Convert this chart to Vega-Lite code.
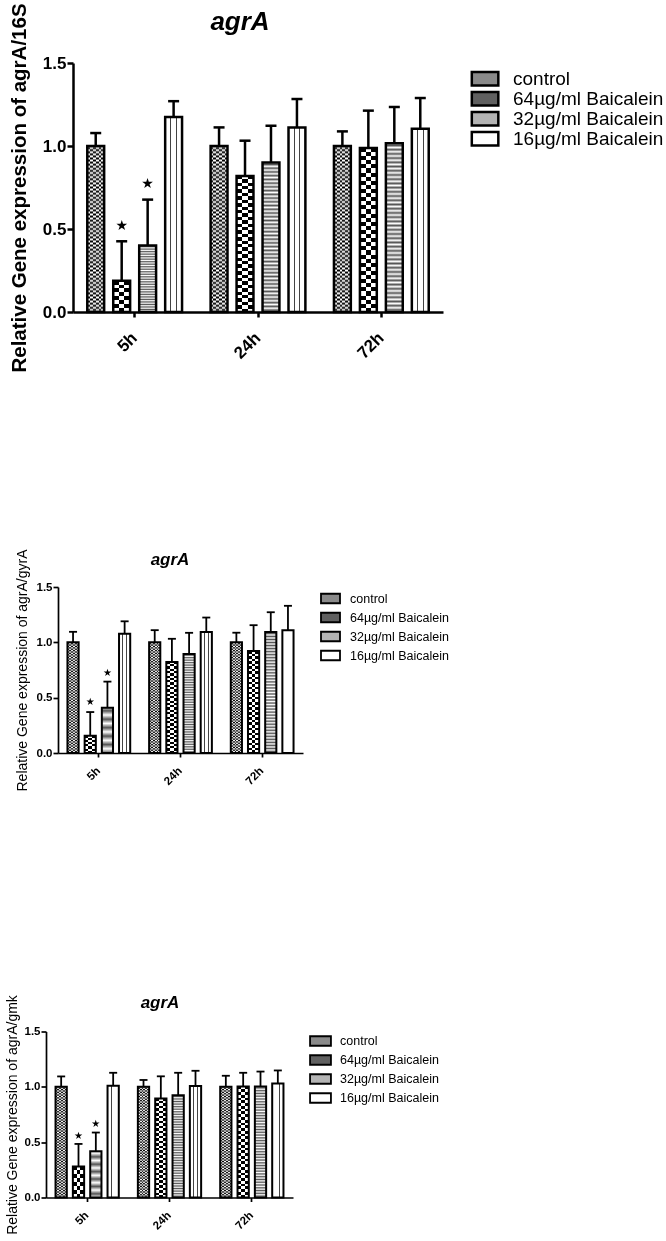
{
"$schema": "https://vega.github.io/schema/vega-lite/v6.json",
"background": "white",
"padding": {"left": 0, "top": 0, "right": 0, "bottom": 0},
"config": {
  "font": "Liberation Sans",
  "view": {"stroke": null},
  "axis": {"grid": false, "domainColor": "black", "tickColor": "black", "labelColor": "black", "titleColor": "black", "labelFont": "Liberation Sans", "titleFont": "Liberation Sans"},
  "legend": {"labelColor": "black", "labelFont": "Liberation Sans", "padding": 0, "labelLimit": 400, "symbolOpacity": 1}
},
"datasets": {
  "p1": [
    {"time":"5h","series":"control","mean":1.0,"upper":1.078},
    {"time":"5h","series":"64µg/ml Baicalein","mean":0.189,"upper":0.426,"star":0.518},
    {"time":"5h","series":"32µg/ml Baicalein","mean":0.4,"upper":0.677,"star":0.773},
    {"time":"5h","series":"16µg/ml Baicalein","mean":1.175,"upper":1.27},
    {"time":"24h","series":"control","mean":1.0,"upper":1.112},
    {"time":"24h","series":"64µg/ml Baicalein","mean":0.82,"upper":1.032},
    {"time":"24h","series":"32µg/ml Baicalein","mean":0.9,"upper":1.122},
    {"time":"24h","series":"16µg/ml Baicalein","mean":1.112,"upper":1.283},
    {"time":"72h","series":"control","mean":1.0,"upper":1.088},
    {"time":"72h","series":"64µg/ml Baicalein","mean":0.988,"upper":1.213},
    {"time":"72h","series":"32µg/ml Baicalein","mean":1.016,"upper":1.235},
    {"time":"72h","series":"16µg/ml Baicalein","mean":1.104,"upper":1.289}
  ],
  "p2": [
    {"time":"5h","series":"control","mean":1.0,"upper":1.095},
    {"time":"5h","series":"64µg/ml Baicalein","mean":0.157,"upper":0.37,"star":0.462},
    {"time":"5h","series":"32µg/ml Baicalein","mean":0.41,"upper":0.645,"star":0.727},
    {"time":"5h","series":"16µg/ml Baicalein","mean":1.078,"upper":1.19},
    {"time":"24h","series":"control","mean":1.0,"upper":1.11},
    {"time":"24h","series":"64µg/ml Baicalein","mean":0.823,"upper":1.032},
    {"time":"24h","series":"32µg/ml Baicalein","mean":0.895,"upper":1.086},
    {"time":"24h","series":"16µg/ml Baicalein","mean":1.094,"upper":1.224},
    {"time":"72h","series":"control","mean":1.0,"upper":1.087},
    {"time":"72h","series":"64µg/ml Baicalein","mean":0.921,"upper":1.155},
    {"time":"72h","series":"32µg/ml Baicalein","mean":1.094,"upper":1.272},
    {"time":"72h","series":"16µg/ml Baicalein","mean":1.11,"upper":1.33}
  ],
  "p3": [
    {"time":"5h","series":"control","mean":1.0,"upper":1.094},
    {"time":"5h","series":"64µg/ml Baicalein","mean":0.281,"upper":0.484,"star":0.56},
    {"time":"5h","series":"32µg/ml Baicalein","mean":0.418,"upper":0.587,"star":0.66},
    {"time":"5h","series":"16µg/ml Baicalein","mean":1.01,"upper":1.127},
    {"time":"24h","series":"control","mean":1.0,"upper":1.062},
    {"time":"24h","series":"64µg/ml Baicalein","mean":0.895,"upper":1.095},
    {"time":"24h","series":"32µg/ml Baicalein","mean":0.925,"upper":1.127},
    {"time":"24h","series":"16µg/ml Baicalein","mean":1.008,"upper":1.145},
    {"time":"72h","series":"control","mean":1.0,"upper":1.1},
    {"time":"72h","series":"64µg/ml Baicalein","mean":1.003,"upper":1.127},
    {"time":"72h","series":"32µg/ml Baicalein","mean":1.003,"upper":1.138},
    {"time":"72h","series":"16µg/ml Baicalein","mean":1.03,"upper":1.148}
  ]
},
"columns": 1,
"spacing": 172,
"resolve": {"scale": {"fill": "independent", "x": "independent", "y": "independent", "xOffset": "independent"}, "legend": {"fill": "independent"}},
"concat": [
{
 "hconcat": [
  {"width": 9, "height": 1, "data": {"values": [{"a": 1}]}, "mark": {"type": "rect", "opacity": 0}, "encoding": {}},
  {
  "width": 370, "height": 249,
  "data": {"name": "p1"},
  "layer": [
   {
    "encoding": {
      "x": {"field": "time", "type": "nominal", "sort": ["5h","24h","72h"], "scale": {"paddingInner": 0, "paddingOuter": 0},
        "axis": {"title": null, "labelAngle": -45, "labelAlign": "right", "labelBaseline": "middle", "labelFontSize": 17, "labelFontWeight": "bold", "labelPadding": 18, "tickSize": 5, "tickWidth": 2.5, "domainWidth": 2.5}},
      "xOffset": {"field": "series", "type": "nominal", "sort": ["control","64µg/ml Baicalein","32µg/ml Baicalein","16µg/ml Baicalein"], "scale": {"domain": ["control","64µg/ml Baicalein","32µg/ml Baicalein","16µg/ml Baicalein"], "paddingInner": 0.35, "paddingOuter": 0.55}}
    },
    "layer": [
    {"mark": {"type": "bar", "stroke": "black", "strokeWidth": 2.5},
     "encoding": {
       "y": {"field": "mean", "type": "quantitative", "scale": {"domain": [0, 1.5], "nice": false},
         "axis": {"values": [0, 0.5, 1, 1.5], "format": ".1f", "title": "Relative Gene expression of  agrA/16S", "titleFontSize": 20.5, "titleFontWeight": "bold", "titlePadding": 13, "labelFontSize": 17, "labelFontWeight": "bold", "labelPadding": 1, "tickSize": 6, "tickWidth": 2.5, "domainWidth": 2.5}},
       "fill": {"condition": [
           {"test": "datum.series == 'control'", "value": {"gradient":"linear","x1":0,"y1":0,"x2":1,"y2":0,"stops":[{"offset":0,"color":"#000"},{"offset":0.1667,"color":"#000"},{"offset":0.1667,"color":"#fff"},{"offset":0.3333,"color":"#fff"},{"offset":0.3333,"color":"#000"},{"offset":0.5,"color":"#000"},{"offset":0.5,"color":"#fff"},{"offset":0.6667,"color":"#fff"},{"offset":0.6667,"color":"#000"},{"offset":0.8333,"color":"#000"},{"offset":0.8333,"color":"#fff"},{"offset":1,"color":"#fff"}]}},
           {"test": "datum.series == '64µg/ml Baicalein'", "value": {"gradient":"linear","x1":0,"y1":0,"x2":1,"y2":0,"stops":[{"offset":0,"color":"#fff"},{"offset":0.3333,"color":"#fff"},{"offset":0.3333,"color":"#000"},{"offset":0.6667,"color":"#000"},{"offset":0.6667,"color":"#fff"},{"offset":1,"color":"#fff"}]}},
           {"test": "datum.series == '32µg/ml Baicalein'", "value": {"gradient":"linear","x1":0,"y1":0,"x2":0,"y2":1,"stops":[
               {"offset":0,"color":"#fff"},{"offset":0.0125,"color":"#555"},{"offset":0.025,"color":"#fff"},{"offset":0.0375,"color":"#555"},{"offset":0.05,"color":"#fff"},{"offset":0.0625,"color":"#555"},{"offset":0.075,"color":"#fff"},{"offset":0.0875,"color":"#555"},
               {"offset":0.1,"color":"#fff"},{"offset":0.1125,"color":"#555"},{"offset":0.125,"color":"#fff"},{"offset":0.1375,"color":"#555"},{"offset":0.15,"color":"#fff"},{"offset":0.1625,"color":"#555"},{"offset":0.175,"color":"#fff"},{"offset":0.1875,"color":"#555"},
               {"offset":0.2,"color":"#fff"},{"offset":0.2125,"color":"#555"},{"offset":0.225,"color":"#fff"},{"offset":0.2375,"color":"#555"},{"offset":0.25,"color":"#fff"},{"offset":0.2625,"color":"#555"},{"offset":0.275,"color":"#fff"},{"offset":0.2875,"color":"#555"},
               {"offset":0.3,"color":"#fff"},{"offset":0.3125,"color":"#555"},{"offset":0.325,"color":"#fff"},{"offset":0.3375,"color":"#555"},{"offset":0.35,"color":"#fff"},{"offset":0.3625,"color":"#555"},{"offset":0.375,"color":"#fff"},{"offset":0.3875,"color":"#555"},
               {"offset":0.4,"color":"#fff"},{"offset":0.4125,"color":"#555"},{"offset":0.425,"color":"#fff"},{"offset":0.4375,"color":"#555"},{"offset":0.45,"color":"#fff"},{"offset":0.4625,"color":"#555"},{"offset":0.475,"color":"#fff"},{"offset":0.4875,"color":"#555"},
               {"offset":0.5,"color":"#fff"},{"offset":0.5125,"color":"#555"},{"offset":0.525,"color":"#fff"},{"offset":0.5375,"color":"#555"},{"offset":0.55,"color":"#fff"},{"offset":0.5625,"color":"#555"},{"offset":0.575,"color":"#fff"},{"offset":0.5875,"color":"#555"},
               {"offset":0.6,"color":"#fff"},{"offset":0.6125,"color":"#555"},{"offset":0.625,"color":"#fff"},{"offset":0.6375,"color":"#555"},{"offset":0.65,"color":"#fff"},{"offset":0.6625,"color":"#555"},{"offset":0.675,"color":"#fff"},{"offset":0.6875,"color":"#555"},
               {"offset":0.7,"color":"#fff"},{"offset":0.7125,"color":"#555"},{"offset":0.725,"color":"#fff"},{"offset":0.7375,"color":"#555"},{"offset":0.75,"color":"#fff"},{"offset":0.7625,"color":"#555"},{"offset":0.775,"color":"#fff"},{"offset":0.7875,"color":"#555"},
               {"offset":0.8,"color":"#fff"},{"offset":0.8125,"color":"#555"},{"offset":0.825,"color":"#fff"},{"offset":0.8375,"color":"#555"},{"offset":0.85,"color":"#fff"},{"offset":0.8625,"color":"#555"},{"offset":0.875,"color":"#fff"},{"offset":0.8875,"color":"#555"},
               {"offset":0.9,"color":"#fff"},{"offset":0.9125,"color":"#555"},{"offset":0.925,"color":"#fff"},{"offset":0.9375,"color":"#555"},{"offset":0.95,"color":"#fff"},{"offset":0.9625,"color":"#555"},{"offset":0.975,"color":"#fff"},{"offset":0.9875,"color":"#555"},
               {"offset":1,"color":"#fff"}]}},
           {"test": "datum.series == '16µg/ml Baicalein'", "value": {"gradient":"linear","x1":0,"y1":0,"x2":1,"y2":0,"stops":[{"offset":0,"color":"#fff"},{"offset":0.3,"color":"#fff"},{"offset":0.3,"color":"#444"},{"offset":0.36,"color":"#444"},{"offset":0.36,"color":"#fff"},{"offset":0.64,"color":"#fff"},{"offset":0.64,"color":"#444"},{"offset":0.7,"color":"#444"},{"offset":0.7,"color":"#fff"},{"offset":1,"color":"#fff"}]}}
         ],
         "field": "series", "type": "nominal",
         "scale": {"domain": ["control","64µg/ml Baicalein","32µg/ml Baicalein","16µg/ml Baicalein"], "range": ["#8a8a8a","#606060","#b4b4b4","#ffffff"]},
         "legend": {"orient": "none", "legendX": 396, "legendY": 6, "title": null, "labelFontSize": 19, "symbolType": "M-0.85,-0.7H1.9V0.7H-0.85Z", "symbolSize": 372, "symbolStrokeColor": "black", "symbolStrokeWidth": 2.5, "labelOffset": 22, "rowPadding": 0, "clipHeight": 19.7}}
     }},
    {"transform": [{"filter": "datum.series == 'control' || datum.series == '64µg/ml Baicalein'"}],
     "mark": {"type": "bar", "stroke": "black", "strokeWidth": 2.5, "blend": "difference"},
     "encoding": {"y": {"field": "mean", "type": "quantitative"},
       "fill": {"condition": [
           {"test": "datum.series == 'control'", "value": {"gradient":"linear","x1":0,"y1":0,"x2":0,"y2":1,"stops":[
               {"offset":0,"color":"#fff"},{"offset":0.0125,"color":"#000"},{"offset":0.025,"color":"#fff"},{"offset":0.0375,"color":"#000"},{"offset":0.05,"color":"#fff"},{"offset":0.0625,"color":"#000"},{"offset":0.075,"color":"#fff"},{"offset":0.0875,"color":"#000"},
               {"offset":0.1,"color":"#fff"},{"offset":0.1125,"color":"#000"},{"offset":0.125,"color":"#fff"},{"offset":0.1375,"color":"#000"},{"offset":0.15,"color":"#fff"},{"offset":0.1625,"color":"#000"},{"offset":0.175,"color":"#fff"},{"offset":0.1875,"color":"#000"},
               {"offset":0.2,"color":"#fff"},{"offset":0.2125,"color":"#000"},{"offset":0.225,"color":"#fff"},{"offset":0.2375,"color":"#000"},{"offset":0.25,"color":"#fff"},{"offset":0.2625,"color":"#000"},{"offset":0.275,"color":"#fff"},{"offset":0.2875,"color":"#000"},
               {"offset":0.3,"color":"#fff"},{"offset":0.3125,"color":"#000"},{"offset":0.325,"color":"#fff"},{"offset":0.3375,"color":"#000"},{"offset":0.35,"color":"#fff"},{"offset":0.3625,"color":"#000"},{"offset":0.375,"color":"#fff"},{"offset":0.3875,"color":"#000"},
               {"offset":0.4,"color":"#fff"},{"offset":0.4125,"color":"#000"},{"offset":0.425,"color":"#fff"},{"offset":0.4375,"color":"#000"},{"offset":0.45,"color":"#fff"},{"offset":0.4625,"color":"#000"},{"offset":0.475,"color":"#fff"},{"offset":0.4875,"color":"#000"},
               {"offset":0.5,"color":"#fff"},{"offset":0.5125,"color":"#000"},{"offset":0.525,"color":"#fff"},{"offset":0.5375,"color":"#000"},{"offset":0.55,"color":"#fff"},{"offset":0.5625,"color":"#000"},{"offset":0.575,"color":"#fff"},{"offset":0.5875,"color":"#000"},
               {"offset":0.6,"color":"#fff"},{"offset":0.6125,"color":"#000"},{"offset":0.625,"color":"#fff"},{"offset":0.6375,"color":"#000"},{"offset":0.65,"color":"#fff"},{"offset":0.6625,"color":"#000"},{"offset":0.675,"color":"#fff"},{"offset":0.6875,"color":"#000"},
               {"offset":0.7,"color":"#fff"},{"offset":0.7125,"color":"#000"},{"offset":0.725,"color":"#fff"},{"offset":0.7375,"color":"#000"},{"offset":0.75,"color":"#fff"},{"offset":0.7625,"color":"#000"},{"offset":0.775,"color":"#fff"},{"offset":0.7875,"color":"#000"},
               {"offset":0.8,"color":"#fff"},{"offset":0.8125,"color":"#000"},{"offset":0.825,"color":"#fff"},{"offset":0.8375,"color":"#000"},{"offset":0.85,"color":"#fff"},{"offset":0.8625,"color":"#000"},{"offset":0.875,"color":"#fff"},{"offset":0.8875,"color":"#000"},
               {"offset":0.9,"color":"#fff"},{"offset":0.9125,"color":"#000"},{"offset":0.925,"color":"#fff"},{"offset":0.9375,"color":"#000"},{"offset":0.95,"color":"#fff"},{"offset":0.9625,"color":"#000"},{"offset":0.975,"color":"#fff"},{"offset":0.9875,"color":"#000"},
               {"offset":1,"color":"#fff"}]}},
           {"test": "datum.mean < 0.35", "value": {"gradient":"linear","x1":0,"y1":0,"x2":0,"y2":1,"stops":[{"offset":0,"color":"#fff"},{"offset":0.125,"color":"#fff"},{"offset":0.125,"color":"#000"},{"offset":0.25,"color":"#000"},{"offset":0.25,"color":"#fff"},{"offset":0.375,"color":"#fff"},{"offset":0.375,"color":"#000"},{"offset":0.5,"color":"#000"},{"offset":0.5,"color":"#fff"},{"offset":0.625,"color":"#fff"},{"offset":0.625,"color":"#000"},{"offset":0.75,"color":"#000"},{"offset":0.75,"color":"#fff"},{"offset":0.875,"color":"#fff"},{"offset":0.875,"color":"#000"},{"offset":1,"color":"#000"}]}}
         ],
         "value": {"gradient":"linear","x1":0,"y1":0,"x2":0,"y2":1,"stops":[
               {"offset":0,"color":"#fff"},{"offset":0.025,"color":"#fff"},{"offset":0.025,"color":"#000"},{"offset":0.05,"color":"#000"},{"offset":0.05,"color":"#fff"},{"offset":0.075,"color":"#fff"},{"offset":0.075,"color":"#000"},{"offset":0.1,"color":"#000"},
               {"offset":0.1,"color":"#fff"},{"offset":0.125,"color":"#fff"},{"offset":0.125,"color":"#000"},{"offset":0.15,"color":"#000"},{"offset":0.15,"color":"#fff"},{"offset":0.175,"color":"#fff"},{"offset":0.175,"color":"#000"},{"offset":0.2,"color":"#000"},
               {"offset":0.2,"color":"#fff"},{"offset":0.225,"color":"#fff"},{"offset":0.225,"color":"#000"},{"offset":0.25,"color":"#000"},{"offset":0.25,"color":"#fff"},{"offset":0.275,"color":"#fff"},{"offset":0.275,"color":"#000"},{"offset":0.3,"color":"#000"},
               {"offset":0.3,"color":"#fff"},{"offset":0.325,"color":"#fff"},{"offset":0.325,"color":"#000"},{"offset":0.35,"color":"#000"},{"offset":0.35,"color":"#fff"},{"offset":0.375,"color":"#fff"},{"offset":0.375,"color":"#000"},{"offset":0.4,"color":"#000"},
               {"offset":0.4,"color":"#fff"},{"offset":0.425,"color":"#fff"},{"offset":0.425,"color":"#000"},{"offset":0.45,"color":"#000"},{"offset":0.45,"color":"#fff"},{"offset":0.475,"color":"#fff"},{"offset":0.475,"color":"#000"},{"offset":0.5,"color":"#000"},
               {"offset":0.5,"color":"#fff"},{"offset":0.525,"color":"#fff"},{"offset":0.525,"color":"#000"},{"offset":0.55,"color":"#000"},{"offset":0.55,"color":"#fff"},{"offset":0.575,"color":"#fff"},{"offset":0.575,"color":"#000"},{"offset":0.6,"color":"#000"},
               {"offset":0.6,"color":"#fff"},{"offset":0.625,"color":"#fff"},{"offset":0.625,"color":"#000"},{"offset":0.65,"color":"#000"},{"offset":0.65,"color":"#fff"},{"offset":0.675,"color":"#fff"},{"offset":0.675,"color":"#000"},{"offset":0.7,"color":"#000"},
               {"offset":0.7,"color":"#fff"},{"offset":0.725,"color":"#fff"},{"offset":0.725,"color":"#000"},{"offset":0.75,"color":"#000"},{"offset":0.75,"color":"#fff"},{"offset":0.775,"color":"#fff"},{"offset":0.775,"color":"#000"},{"offset":0.8,"color":"#000"},
               {"offset":0.8,"color":"#fff"},{"offset":0.825,"color":"#fff"},{"offset":0.825,"color":"#000"},{"offset":0.85,"color":"#000"},{"offset":0.85,"color":"#fff"},{"offset":0.875,"color":"#fff"},{"offset":0.875,"color":"#000"},{"offset":0.9,"color":"#000"},
               {"offset":0.9,"color":"#fff"},{"offset":0.925,"color":"#fff"},{"offset":0.925,"color":"#000"},{"offset":0.95,"color":"#000"},{"offset":0.95,"color":"#fff"},{"offset":0.975,"color":"#fff"},{"offset":0.975,"color":"#000"},{"offset":1,"color":"#000"}]}}}},
    {"mark": {"type": "rule", "color": "black", "strokeWidth": 2.5},
     "encoding": {"y": {"field": "mean", "type": "quantitative"}, "y2": {"field": "upper"}}},
    {"mark": {"type": "tick", "color": "black", "orient": "horizontal", "thickness": 2.5, "size": 11, "opacity": 1},
     "encoding": {"y": {"field": "upper", "type": "quantitative"}}},
    {"transform": [{"filter": "isValid(datum.star)"}],
     "mark": {"type": "text", "text": "★", "font": "DejaVu Sans", "fontSize": 14, "color": "black", "baseline": "middle"},
     "encoding": {"y": {"field": "star", "type": "quantitative"}}}
    ]
   },
   {"data": {"values": [{"label": "agrA"}]},
    "mark": {"type": "text", "font": "Liberation Sans", "fontSize": 26, "fontWeight": "bold", "fontStyle": "italic", "baseline": "alphabetic", "align": "center", "dx": -18, "color": "black"},
    "encoding": {"text": {"field": "label", "type": "nominal"}, "x": {"datum": "24h"}, "y": {"datum": 1.696}}}
  ]
  }
 ],
 "spacing": 0,
 "resolve": {"scale": {"fill": "independent", "x": "independent", "y": "independent", "xOffset": "independent"}, "legend": {"fill": "independent"}}
},
{
  "columns": 1,
  "spacing": 199.5,
  "resolve": {"scale": {"fill": "independent", "x": "independent", "y": "independent", "xOffset": "independent"}, "legend": {"fill": "independent"}},
  "concat": [
  {
   "hconcat": [
    {"width": 15, "height": 1, "data": {"values": [{"a": 1}]}, "mark": {"type": "rect", "opacity": 0}, "encoding": {}},
    {
    "width": 245, "height": 166,
    "data": {"name": "p2"},
    "layer": [
     {
      "encoding": {
        "x": {"field": "time", "type": "nominal", "sort": ["5h","24h","72h"], "scale": {"paddingInner": 0, "paddingOuter": 0},
          "axis": {"title": null, "labelAngle": -45, "labelAlign": "right", "labelBaseline": "middle", "labelFontSize": 11.5, "labelFontWeight": "bold", "labelPadding": 12, "tickSize": 4, "tickWidth": 1.7, "domainWidth": 1.7}},
        "xOffset": {"field": "series", "type": "nominal", "sort": ["control","64µg/ml Baicalein","32µg/ml Baicalein","16µg/ml Baicalein"], "scale": {"domain": ["control","64µg/ml Baicalein","32µg/ml Baicalein","16µg/ml Baicalein"], "paddingInner": 0.35, "paddingOuter": 0.55}}
      },
      "layer": [
      {"mark": {"type": "bar", "stroke": "black", "strokeWidth": 2},
       "encoding": {
         "y": {"field": "mean", "type": "quantitative", "scale": {"domain": [0, 1.5], "nice": false},
           "axis": {"values": [0, 0.5, 1, 1.5], "format": ".1f", "title": "Relative Gene expression of  agrA/gyrA", "titleFontSize": 14, "titleFontWeight": "normal", "titlePadding": 7, "labelFontSize": 11.5, "labelFontWeight": "bold", "labelPadding": 1, "tickSize": 5, "tickWidth": 1.7, "domainWidth": 1.7}},
         "fill": {"condition": [
           {"test": "datum.series == 'control'", "value": {"gradient":"linear","x1":0,"y1":0,"x2":1,"y2":0,"stops":[{"offset":0,"color":"#000"},{"offset":0.1667,"color":"#000"},{"offset":0.1667,"color":"#fff"},{"offset":0.3333,"color":"#fff"},{"offset":0.3333,"color":"#000"},{"offset":0.5,"color":"#000"},{"offset":0.5,"color":"#fff"},{"offset":0.6667,"color":"#fff"},{"offset":0.6667,"color":"#000"},{"offset":0.8333,"color":"#000"},{"offset":0.8333,"color":"#fff"},{"offset":1,"color":"#fff"}]}},
           {"test": "datum.series == '64µg/ml Baicalein'", "value": {"gradient":"linear","x1":0,"y1":0,"x2":1,"y2":0,"stops":[{"offset":0,"color":"#fff"},{"offset":0.3333,"color":"#fff"},{"offset":0.3333,"color":"#000"},{"offset":0.6667,"color":"#000"},{"offset":0.6667,"color":"#fff"},{"offset":1,"color":"#fff"}]}},
           {"test": "datum.series == '32µg/ml Baicalein'", "value": {"gradient":"linear","x1":0,"y1":0,"x2":0,"y2":1,"stops":[
               {"offset":0,"color":"#fff"},{"offset":0.0125,"color":"#555"},{"offset":0.025,"color":"#fff"},{"offset":0.0375,"color":"#555"},{"offset":0.05,"color":"#fff"},{"offset":0.0625,"color":"#555"},{"offset":0.075,"color":"#fff"},{"offset":0.0875,"color":"#555"},
               {"offset":0.1,"color":"#fff"},{"offset":0.1125,"color":"#555"},{"offset":0.125,"color":"#fff"},{"offset":0.1375,"color":"#555"},{"offset":0.15,"color":"#fff"},{"offset":0.1625,"color":"#555"},{"offset":0.175,"color":"#fff"},{"offset":0.1875,"color":"#555"},
               {"offset":0.2,"color":"#fff"},{"offset":0.2125,"color":"#555"},{"offset":0.225,"color":"#fff"},{"offset":0.2375,"color":"#555"},{"offset":0.25,"color":"#fff"},{"offset":0.2625,"color":"#555"},{"offset":0.275,"color":"#fff"},{"offset":0.2875,"color":"#555"},
               {"offset":0.3,"color":"#fff"},{"offset":0.3125,"color":"#555"},{"offset":0.325,"color":"#fff"},{"offset":0.3375,"color":"#555"},{"offset":0.35,"color":"#fff"},{"offset":0.3625,"color":"#555"},{"offset":0.375,"color":"#fff"},{"offset":0.3875,"color":"#555"},
               {"offset":0.4,"color":"#fff"},{"offset":0.4125,"color":"#555"},{"offset":0.425,"color":"#fff"},{"offset":0.4375,"color":"#555"},{"offset":0.45,"color":"#fff"},{"offset":0.4625,"color":"#555"},{"offset":0.475,"color":"#fff"},{"offset":0.4875,"color":"#555"},
               {"offset":0.5,"color":"#fff"},{"offset":0.5125,"color":"#555"},{"offset":0.525,"color":"#fff"},{"offset":0.5375,"color":"#555"},{"offset":0.55,"color":"#fff"},{"offset":0.5625,"color":"#555"},{"offset":0.575,"color":"#fff"},{"offset":0.5875,"color":"#555"},
               {"offset":0.6,"color":"#fff"},{"offset":0.6125,"color":"#555"},{"offset":0.625,"color":"#fff"},{"offset":0.6375,"color":"#555"},{"offset":0.65,"color":"#fff"},{"offset":0.6625,"color":"#555"},{"offset":0.675,"color":"#fff"},{"offset":0.6875,"color":"#555"},
               {"offset":0.7,"color":"#fff"},{"offset":0.7125,"color":"#555"},{"offset":0.725,"color":"#fff"},{"offset":0.7375,"color":"#555"},{"offset":0.75,"color":"#fff"},{"offset":0.7625,"color":"#555"},{"offset":0.775,"color":"#fff"},{"offset":0.7875,"color":"#555"},
               {"offset":0.8,"color":"#fff"},{"offset":0.8125,"color":"#555"},{"offset":0.825,"color":"#fff"},{"offset":0.8375,"color":"#555"},{"offset":0.85,"color":"#fff"},{"offset":0.8625,"color":"#555"},{"offset":0.875,"color":"#fff"},{"offset":0.8875,"color":"#555"},
               {"offset":0.9,"color":"#fff"},{"offset":0.9125,"color":"#555"},{"offset":0.925,"color":"#fff"},{"offset":0.9375,"color":"#555"},{"offset":0.95,"color":"#fff"},{"offset":0.9625,"color":"#555"},{"offset":0.975,"color":"#fff"},{"offset":0.9875,"color":"#555"},
               {"offset":1,"color":"#fff"}]}},
           {"test": "datum.series == '16µg/ml Baicalein'", "value": {"gradient":"linear","x1":0,"y1":0,"x2":1,"y2":0,"stops":[{"offset":0,"color":"#fff"},{"offset":0.3,"color":"#fff"},{"offset":0.3,"color":"#444"},{"offset":0.36,"color":"#444"},{"offset":0.36,"color":"#fff"},{"offset":0.64,"color":"#fff"},{"offset":0.64,"color":"#444"},{"offset":0.7,"color":"#444"},{"offset":0.7,"color":"#fff"},{"offset":1,"color":"#fff"}]}}
         ],
         "field": "series", "type": "nominal",
         "scale": {"domain": ["control","64µg/ml Baicalein","32µg/ml Baicalein","16µg/ml Baicalein"], "range": ["#8a8a8a","#606060","#b4b4b4","#ffffff"]},
         "legend": {"orient": "none", "legendX": 262, "legendY": 1, "title": null, "labelFontSize": 12.5, "symbolType": "M-1,-0.5H1V0.5H-1Z", "symbolSize": 361, "symbolStrokeColor": "black", "symbolStrokeWidth": 1.8, "labelOffset": 9, "rowPadding": 0}}
       }},
      {"transform": [{"filter": "datum.series == 'control' || datum.series == '64µg/ml Baicalein'"}],
       "mark": {"type": "bar", "stroke": "black", "strokeWidth": 2, "blend": "difference"},
       "encoding": {"y": {"field": "mean", "type": "quantitative"},
         "fill": {"condition": [
           {"test": "datum.series == 'control'", "value": {"gradient":"linear","x1":0,"y1":0,"x2":0,"y2":1,"stops":[
               {"offset":0,"color":"#fff"},{"offset":0.0125,"color":"#000"},{"offset":0.025,"color":"#fff"},{"offset":0.0375,"color":"#000"},{"offset":0.05,"color":"#fff"},{"offset":0.0625,"color":"#000"},{"offset":0.075,"color":"#fff"},{"offset":0.0875,"color":"#000"},
               {"offset":0.1,"color":"#fff"},{"offset":0.1125,"color":"#000"},{"offset":0.125,"color":"#fff"},{"offset":0.1375,"color":"#000"},{"offset":0.15,"color":"#fff"},{"offset":0.1625,"color":"#000"},{"offset":0.175,"color":"#fff"},{"offset":0.1875,"color":"#000"},
               {"offset":0.2,"color":"#fff"},{"offset":0.2125,"color":"#000"},{"offset":0.225,"color":"#fff"},{"offset":0.2375,"color":"#000"},{"offset":0.25,"color":"#fff"},{"offset":0.2625,"color":"#000"},{"offset":0.275,"color":"#fff"},{"offset":0.2875,"color":"#000"},
               {"offset":0.3,"color":"#fff"},{"offset":0.3125,"color":"#000"},{"offset":0.325,"color":"#fff"},{"offset":0.3375,"color":"#000"},{"offset":0.35,"color":"#fff"},{"offset":0.3625,"color":"#000"},{"offset":0.375,"color":"#fff"},{"offset":0.3875,"color":"#000"},
               {"offset":0.4,"color":"#fff"},{"offset":0.4125,"color":"#000"},{"offset":0.425,"color":"#fff"},{"offset":0.4375,"color":"#000"},{"offset":0.45,"color":"#fff"},{"offset":0.4625,"color":"#000"},{"offset":0.475,"color":"#fff"},{"offset":0.4875,"color":"#000"},
               {"offset":0.5,"color":"#fff"},{"offset":0.5125,"color":"#000"},{"offset":0.525,"color":"#fff"},{"offset":0.5375,"color":"#000"},{"offset":0.55,"color":"#fff"},{"offset":0.5625,"color":"#000"},{"offset":0.575,"color":"#fff"},{"offset":0.5875,"color":"#000"},
               {"offset":0.6,"color":"#fff"},{"offset":0.6125,"color":"#000"},{"offset":0.625,"color":"#fff"},{"offset":0.6375,"color":"#000"},{"offset":0.65,"color":"#fff"},{"offset":0.6625,"color":"#000"},{"offset":0.675,"color":"#fff"},{"offset":0.6875,"color":"#000"},
               {"offset":0.7,"color":"#fff"},{"offset":0.7125,"color":"#000"},{"offset":0.725,"color":"#fff"},{"offset":0.7375,"color":"#000"},{"offset":0.75,"color":"#fff"},{"offset":0.7625,"color":"#000"},{"offset":0.775,"color":"#fff"},{"offset":0.7875,"color":"#000"},
               {"offset":0.8,"color":"#fff"},{"offset":0.8125,"color":"#000"},{"offset":0.825,"color":"#fff"},{"offset":0.8375,"color":"#000"},{"offset":0.85,"color":"#fff"},{"offset":0.8625,"color":"#000"},{"offset":0.875,"color":"#fff"},{"offset":0.8875,"color":"#000"},
               {"offset":0.9,"color":"#fff"},{"offset":0.9125,"color":"#000"},{"offset":0.925,"color":"#fff"},{"offset":0.9375,"color":"#000"},{"offset":0.95,"color":"#fff"},{"offset":0.9625,"color":"#000"},{"offset":0.975,"color":"#fff"},{"offset":0.9875,"color":"#000"},
               {"offset":1,"color":"#fff"}]}},
           {"test": "datum.mean < 0.35", "value": {"gradient":"linear","x1":0,"y1":0,"x2":0,"y2":1,"stops":[{"offset":0,"color":"#fff"},{"offset":0.125,"color":"#fff"},{"offset":0.125,"color":"#000"},{"offset":0.25,"color":"#000"},{"offset":0.25,"color":"#fff"},{"offset":0.375,"color":"#fff"},{"offset":0.375,"color":"#000"},{"offset":0.5,"color":"#000"},{"offset":0.5,"color":"#fff"},{"offset":0.625,"color":"#fff"},{"offset":0.625,"color":"#000"},{"offset":0.75,"color":"#000"},{"offset":0.75,"color":"#fff"},{"offset":0.875,"color":"#fff"},{"offset":0.875,"color":"#000"},{"offset":1,"color":"#000"}]}}
         ],
         "value": {"gradient":"linear","x1":0,"y1":0,"x2":0,"y2":1,"stops":[
               {"offset":0,"color":"#fff"},{"offset":0.025,"color":"#fff"},{"offset":0.025,"color":"#000"},{"offset":0.05,"color":"#000"},{"offset":0.05,"color":"#fff"},{"offset":0.075,"color":"#fff"},{"offset":0.075,"color":"#000"},{"offset":0.1,"color":"#000"},
               {"offset":0.1,"color":"#fff"},{"offset":0.125,"color":"#fff"},{"offset":0.125,"color":"#000"},{"offset":0.15,"color":"#000"},{"offset":0.15,"color":"#fff"},{"offset":0.175,"color":"#fff"},{"offset":0.175,"color":"#000"},{"offset":0.2,"color":"#000"},
               {"offset":0.2,"color":"#fff"},{"offset":0.225,"color":"#fff"},{"offset":0.225,"color":"#000"},{"offset":0.25,"color":"#000"},{"offset":0.25,"color":"#fff"},{"offset":0.275,"color":"#fff"},{"offset":0.275,"color":"#000"},{"offset":0.3,"color":"#000"},
               {"offset":0.3,"color":"#fff"},{"offset":0.325,"color":"#fff"},{"offset":0.325,"color":"#000"},{"offset":0.35,"color":"#000"},{"offset":0.35,"color":"#fff"},{"offset":0.375,"color":"#fff"},{"offset":0.375,"color":"#000"},{"offset":0.4,"color":"#000"},
               {"offset":0.4,"color":"#fff"},{"offset":0.425,"color":"#fff"},{"offset":0.425,"color":"#000"},{"offset":0.45,"color":"#000"},{"offset":0.45,"color":"#fff"},{"offset":0.475,"color":"#fff"},{"offset":0.475,"color":"#000"},{"offset":0.5,"color":"#000"},
               {"offset":0.5,"color":"#fff"},{"offset":0.525,"color":"#fff"},{"offset":0.525,"color":"#000"},{"offset":0.55,"color":"#000"},{"offset":0.55,"color":"#fff"},{"offset":0.575,"color":"#fff"},{"offset":0.575,"color":"#000"},{"offset":0.6,"color":"#000"},
               {"offset":0.6,"color":"#fff"},{"offset":0.625,"color":"#fff"},{"offset":0.625,"color":"#000"},{"offset":0.65,"color":"#000"},{"offset":0.65,"color":"#fff"},{"offset":0.675,"color":"#fff"},{"offset":0.675,"color":"#000"},{"offset":0.7,"color":"#000"},
               {"offset":0.7,"color":"#fff"},{"offset":0.725,"color":"#fff"},{"offset":0.725,"color":"#000"},{"offset":0.75,"color":"#000"},{"offset":0.75,"color":"#fff"},{"offset":0.775,"color":"#fff"},{"offset":0.775,"color":"#000"},{"offset":0.8,"color":"#000"},
               {"offset":0.8,"color":"#fff"},{"offset":0.825,"color":"#fff"},{"offset":0.825,"color":"#000"},{"offset":0.85,"color":"#000"},{"offset":0.85,"color":"#fff"},{"offset":0.875,"color":"#fff"},{"offset":0.875,"color":"#000"},{"offset":0.9,"color":"#000"},
               {"offset":0.9,"color":"#fff"},{"offset":0.925,"color":"#fff"},{"offset":0.925,"color":"#000"},{"offset":0.95,"color":"#000"},{"offset":0.95,"color":"#fff"},{"offset":0.975,"color":"#fff"},{"offset":0.975,"color":"#000"},{"offset":1,"color":"#000"}]}}}},
      {"mark": {"type": "rule", "color": "black", "strokeWidth": 1.8},
       "encoding": {"y": {"field": "mean", "type": "quantitative"}, "y2": {"field": "upper"}}},
      {"mark": {"type": "tick", "color": "black", "orient": "horizontal", "thickness": 1.8, "size": 8, "opacity": 1},
       "encoding": {"y": {"field": "upper", "type": "quantitative"}}},
      {"transform": [{"filter": "isValid(datum.star)"}],
       "mark": {"type": "text", "text": "★", "font": "DejaVu Sans", "fontSize": 10, "color": "black", "baseline": "middle"},
       "encoding": {"y": {"field": "star", "type": "quantitative"}}}
      ]
     },
     {"data": {"values": [{"label": "agrA"}]},
      "mark": {"type": "text", "font": "Liberation Sans", "fontSize": 17, "fontWeight": "bold", "fontStyle": "italic", "baseline": "alphabetic", "align": "center", "dx": -10.5, "color": "black"},
      "encoding": {"text": {"field": "label", "type": "nominal"}, "x": {"datum": "24h"}, "y": {"datum": 1.699}}}
    ]
    }
   ],
   "spacing": 0,
   "resolve": {"scale": {"fill": "independent", "x": "independent", "y": "independent", "xOffset": "independent"}, "legend": {"fill": "independent"}}
  },
  {
   "hconcat": [
    {"width": 5, "height": 1, "data": {"values": [{"a": 1}]}, "mark": {"type": "rect", "opacity": 0}, "encoding": {}},
    {
    "width": 247, "height": 166,
    "data": {"name": "p3"},
    "layer": [
     {
      "encoding": {
        "x": {"field": "time", "type": "nominal", "sort": ["5h","24h","72h"], "scale": {"paddingInner": 0, "paddingOuter": 0},
          "axis": {"title": null, "labelAngle": -45, "labelAlign": "right", "labelBaseline": "middle", "labelFontSize": 11.5, "labelFontWeight": "bold", "labelPadding": 12, "tickSize": 4, "tickWidth": 1.7, "domainWidth": 1.7}},
        "xOffset": {"field": "series", "type": "nominal", "sort": ["control","64µg/ml Baicalein","32µg/ml Baicalein","16µg/ml Baicalein"], "scale": {"domain": ["control","64µg/ml Baicalein","32µg/ml Baicalein","16µg/ml Baicalein"], "paddingInner": 0.35, "paddingOuter": 0.55}}
      },
      "layer": [
      {"mark": {"type": "bar", "stroke": "black", "strokeWidth": 2},
       "encoding": {
         "y": {"field": "mean", "type": "quantitative", "scale": {"domain": [0, 1.5], "nice": false},
           "axis": {"values": [0, 0.5, 1, 1.5], "format": ".1f", "title": "Relative Gene expression of  agrA/gmk", "titleFontSize": 14, "titleFontWeight": "normal", "titlePadding": 5, "labelFontSize": 11.5, "labelFontWeight": "bold", "labelPadding": 1, "tickSize": 5, "tickWidth": 1.7, "domainWidth": 1.7}},
         "fill": {"condition": [
           {"test": "datum.series == 'control'", "value": {"gradient":"linear","x1":0,"y1":0,"x2":1,"y2":0,"stops":[{"offset":0,"color":"#000"},{"offset":0.1667,"color":"#000"},{"offset":0.1667,"color":"#fff"},{"offset":0.3333,"color":"#fff"},{"offset":0.3333,"color":"#000"},{"offset":0.5,"color":"#000"},{"offset":0.5,"color":"#fff"},{"offset":0.6667,"color":"#fff"},{"offset":0.6667,"color":"#000"},{"offset":0.8333,"color":"#000"},{"offset":0.8333,"color":"#fff"},{"offset":1,"color":"#fff"}]}},
           {"test": "datum.series == '64µg/ml Baicalein'", "value": {"gradient":"linear","x1":0,"y1":0,"x2":1,"y2":0,"stops":[{"offset":0,"color":"#fff"},{"offset":0.3333,"color":"#fff"},{"offset":0.3333,"color":"#000"},{"offset":0.6667,"color":"#000"},{"offset":0.6667,"color":"#fff"},{"offset":1,"color":"#fff"}]}},
           {"test": "datum.series == '32µg/ml Baicalein'", "value": {"gradient":"linear","x1":0,"y1":0,"x2":0,"y2":1,"stops":[
               {"offset":0,"color":"#fff"},{"offset":0.0125,"color":"#555"},{"offset":0.025,"color":"#fff"},{"offset":0.0375,"color":"#555"},{"offset":0.05,"color":"#fff"},{"offset":0.0625,"color":"#555"},{"offset":0.075,"color":"#fff"},{"offset":0.0875,"color":"#555"},
               {"offset":0.1,"color":"#fff"},{"offset":0.1125,"color":"#555"},{"offset":0.125,"color":"#fff"},{"offset":0.1375,"color":"#555"},{"offset":0.15,"color":"#fff"},{"offset":0.1625,"color":"#555"},{"offset":0.175,"color":"#fff"},{"offset":0.1875,"color":"#555"},
               {"offset":0.2,"color":"#fff"},{"offset":0.2125,"color":"#555"},{"offset":0.225,"color":"#fff"},{"offset":0.2375,"color":"#555"},{"offset":0.25,"color":"#fff"},{"offset":0.2625,"color":"#555"},{"offset":0.275,"color":"#fff"},{"offset":0.2875,"color":"#555"},
               {"offset":0.3,"color":"#fff"},{"offset":0.3125,"color":"#555"},{"offset":0.325,"color":"#fff"},{"offset":0.3375,"color":"#555"},{"offset":0.35,"color":"#fff"},{"offset":0.3625,"color":"#555"},{"offset":0.375,"color":"#fff"},{"offset":0.3875,"color":"#555"},
               {"offset":0.4,"color":"#fff"},{"offset":0.4125,"color":"#555"},{"offset":0.425,"color":"#fff"},{"offset":0.4375,"color":"#555"},{"offset":0.45,"color":"#fff"},{"offset":0.4625,"color":"#555"},{"offset":0.475,"color":"#fff"},{"offset":0.4875,"color":"#555"},
               {"offset":0.5,"color":"#fff"},{"offset":0.5125,"color":"#555"},{"offset":0.525,"color":"#fff"},{"offset":0.5375,"color":"#555"},{"offset":0.55,"color":"#fff"},{"offset":0.5625,"color":"#555"},{"offset":0.575,"color":"#fff"},{"offset":0.5875,"color":"#555"},
               {"offset":0.6,"color":"#fff"},{"offset":0.6125,"color":"#555"},{"offset":0.625,"color":"#fff"},{"offset":0.6375,"color":"#555"},{"offset":0.65,"color":"#fff"},{"offset":0.6625,"color":"#555"},{"offset":0.675,"color":"#fff"},{"offset":0.6875,"color":"#555"},
               {"offset":0.7,"color":"#fff"},{"offset":0.7125,"color":"#555"},{"offset":0.725,"color":"#fff"},{"offset":0.7375,"color":"#555"},{"offset":0.75,"color":"#fff"},{"offset":0.7625,"color":"#555"},{"offset":0.775,"color":"#fff"},{"offset":0.7875,"color":"#555"},
               {"offset":0.8,"color":"#fff"},{"offset":0.8125,"color":"#555"},{"offset":0.825,"color":"#fff"},{"offset":0.8375,"color":"#555"},{"offset":0.85,"color":"#fff"},{"offset":0.8625,"color":"#555"},{"offset":0.875,"color":"#fff"},{"offset":0.8875,"color":"#555"},
               {"offset":0.9,"color":"#fff"},{"offset":0.9125,"color":"#555"},{"offset":0.925,"color":"#fff"},{"offset":0.9375,"color":"#555"},{"offset":0.95,"color":"#fff"},{"offset":0.9625,"color":"#555"},{"offset":0.975,"color":"#fff"},{"offset":0.9875,"color":"#555"},
               {"offset":1,"color":"#fff"}]}},
           {"test": "datum.series == '16µg/ml Baicalein'", "value": {"gradient":"linear","x1":0,"y1":0,"x2":1,"y2":0,"stops":[{"offset":0,"color":"#fff"},{"offset":0.3,"color":"#fff"},{"offset":0.3,"color":"#444"},{"offset":0.36,"color":"#444"},{"offset":0.36,"color":"#fff"},{"offset":0.64,"color":"#fff"},{"offset":0.64,"color":"#444"},{"offset":0.7,"color":"#444"},{"offset":0.7,"color":"#fff"},{"offset":1,"color":"#fff"}]}}
         ],
         "field": "series", "type": "nominal",
         "scale": {"domain": ["control","64µg/ml Baicalein","32µg/ml Baicalein","16µg/ml Baicalein"], "range": ["#8a8a8a","#606060","#b4b4b4","#ffffff"]},
         "legend": {"orient": "none", "legendX": 264, "legendY": -1, "title": null, "labelFontSize": 12.5, "symbolType": "M-1.1,-0.5H1.1V0.5H-1.1Z", "symbolSize": 361, "symbolStrokeColor": "black", "symbolStrokeWidth": 1.8, "labelOffset": 9, "rowPadding": 0}}
       }},
      {"transform": [{"filter": "datum.series == 'control' || datum.series == '64µg/ml Baicalein'"}],
       "mark": {"type": "bar", "stroke": "black", "strokeWidth": 2, "blend": "difference"},
       "encoding": {"y": {"field": "mean", "type": "quantitative"},
         "fill": {"condition": [
           {"test": "datum.series == 'control'", "value": {"gradient":"linear","x1":0,"y1":0,"x2":0,"y2":1,"stops":[
               {"offset":0,"color":"#fff"},{"offset":0.0125,"color":"#000"},{"offset":0.025,"color":"#fff"},{"offset":0.0375,"color":"#000"},{"offset":0.05,"color":"#fff"},{"offset":0.0625,"color":"#000"},{"offset":0.075,"color":"#fff"},{"offset":0.0875,"color":"#000"},
               {"offset":0.1,"color":"#fff"},{"offset":0.1125,"color":"#000"},{"offset":0.125,"color":"#fff"},{"offset":0.1375,"color":"#000"},{"offset":0.15,"color":"#fff"},{"offset":0.1625,"color":"#000"},{"offset":0.175,"color":"#fff"},{"offset":0.1875,"color":"#000"},
               {"offset":0.2,"color":"#fff"},{"offset":0.2125,"color":"#000"},{"offset":0.225,"color":"#fff"},{"offset":0.2375,"color":"#000"},{"offset":0.25,"color":"#fff"},{"offset":0.2625,"color":"#000"},{"offset":0.275,"color":"#fff"},{"offset":0.2875,"color":"#000"},
               {"offset":0.3,"color":"#fff"},{"offset":0.3125,"color":"#000"},{"offset":0.325,"color":"#fff"},{"offset":0.3375,"color":"#000"},{"offset":0.35,"color":"#fff"},{"offset":0.3625,"color":"#000"},{"offset":0.375,"color":"#fff"},{"offset":0.3875,"color":"#000"},
               {"offset":0.4,"color":"#fff"},{"offset":0.4125,"color":"#000"},{"offset":0.425,"color":"#fff"},{"offset":0.4375,"color":"#000"},{"offset":0.45,"color":"#fff"},{"offset":0.4625,"color":"#000"},{"offset":0.475,"color":"#fff"},{"offset":0.4875,"color":"#000"},
               {"offset":0.5,"color":"#fff"},{"offset":0.5125,"color":"#000"},{"offset":0.525,"color":"#fff"},{"offset":0.5375,"color":"#000"},{"offset":0.55,"color":"#fff"},{"offset":0.5625,"color":"#000"},{"offset":0.575,"color":"#fff"},{"offset":0.5875,"color":"#000"},
               {"offset":0.6,"color":"#fff"},{"offset":0.6125,"color":"#000"},{"offset":0.625,"color":"#fff"},{"offset":0.6375,"color":"#000"},{"offset":0.65,"color":"#fff"},{"offset":0.6625,"color":"#000"},{"offset":0.675,"color":"#fff"},{"offset":0.6875,"color":"#000"},
               {"offset":0.7,"color":"#fff"},{"offset":0.7125,"color":"#000"},{"offset":0.725,"color":"#fff"},{"offset":0.7375,"color":"#000"},{"offset":0.75,"color":"#fff"},{"offset":0.7625,"color":"#000"},{"offset":0.775,"color":"#fff"},{"offset":0.7875,"color":"#000"},
               {"offset":0.8,"color":"#fff"},{"offset":0.8125,"color":"#000"},{"offset":0.825,"color":"#fff"},{"offset":0.8375,"color":"#000"},{"offset":0.85,"color":"#fff"},{"offset":0.8625,"color":"#000"},{"offset":0.875,"color":"#fff"},{"offset":0.8875,"color":"#000"},
               {"offset":0.9,"color":"#fff"},{"offset":0.9125,"color":"#000"},{"offset":0.925,"color":"#fff"},{"offset":0.9375,"color":"#000"},{"offset":0.95,"color":"#fff"},{"offset":0.9625,"color":"#000"},{"offset":0.975,"color":"#fff"},{"offset":0.9875,"color":"#000"},
               {"offset":1,"color":"#fff"}]}},
           {"test": "datum.mean < 0.35", "value": {"gradient":"linear","x1":0,"y1":0,"x2":0,"y2":1,"stops":[{"offset":0,"color":"#fff"},{"offset":0.125,"color":"#fff"},{"offset":0.125,"color":"#000"},{"offset":0.25,"color":"#000"},{"offset":0.25,"color":"#fff"},{"offset":0.375,"color":"#fff"},{"offset":0.375,"color":"#000"},{"offset":0.5,"color":"#000"},{"offset":0.5,"color":"#fff"},{"offset":0.625,"color":"#fff"},{"offset":0.625,"color":"#000"},{"offset":0.75,"color":"#000"},{"offset":0.75,"color":"#fff"},{"offset":0.875,"color":"#fff"},{"offset":0.875,"color":"#000"},{"offset":1,"color":"#000"}]}}
         ],
         "value": {"gradient":"linear","x1":0,"y1":0,"x2":0,"y2":1,"stops":[
               {"offset":0,"color":"#fff"},{"offset":0.025,"color":"#fff"},{"offset":0.025,"color":"#000"},{"offset":0.05,"color":"#000"},{"offset":0.05,"color":"#fff"},{"offset":0.075,"color":"#fff"},{"offset":0.075,"color":"#000"},{"offset":0.1,"color":"#000"},
               {"offset":0.1,"color":"#fff"},{"offset":0.125,"color":"#fff"},{"offset":0.125,"color":"#000"},{"offset":0.15,"color":"#000"},{"offset":0.15,"color":"#fff"},{"offset":0.175,"color":"#fff"},{"offset":0.175,"color":"#000"},{"offset":0.2,"color":"#000"},
               {"offset":0.2,"color":"#fff"},{"offset":0.225,"color":"#fff"},{"offset":0.225,"color":"#000"},{"offset":0.25,"color":"#000"},{"offset":0.25,"color":"#fff"},{"offset":0.275,"color":"#fff"},{"offset":0.275,"color":"#000"},{"offset":0.3,"color":"#000"},
               {"offset":0.3,"color":"#fff"},{"offset":0.325,"color":"#fff"},{"offset":0.325,"color":"#000"},{"offset":0.35,"color":"#000"},{"offset":0.35,"color":"#fff"},{"offset":0.375,"color":"#fff"},{"offset":0.375,"color":"#000"},{"offset":0.4,"color":"#000"},
               {"offset":0.4,"color":"#fff"},{"offset":0.425,"color":"#fff"},{"offset":0.425,"color":"#000"},{"offset":0.45,"color":"#000"},{"offset":0.45,"color":"#fff"},{"offset":0.475,"color":"#fff"},{"offset":0.475,"color":"#000"},{"offset":0.5,"color":"#000"},
               {"offset":0.5,"color":"#fff"},{"offset":0.525,"color":"#fff"},{"offset":0.525,"color":"#000"},{"offset":0.55,"color":"#000"},{"offset":0.55,"color":"#fff"},{"offset":0.575,"color":"#fff"},{"offset":0.575,"color":"#000"},{"offset":0.6,"color":"#000"},
               {"offset":0.6,"color":"#fff"},{"offset":0.625,"color":"#fff"},{"offset":0.625,"color":"#000"},{"offset":0.65,"color":"#000"},{"offset":0.65,"color":"#fff"},{"offset":0.675,"color":"#fff"},{"offset":0.675,"color":"#000"},{"offset":0.7,"color":"#000"},
               {"offset":0.7,"color":"#fff"},{"offset":0.725,"color":"#fff"},{"offset":0.725,"color":"#000"},{"offset":0.75,"color":"#000"},{"offset":0.75,"color":"#fff"},{"offset":0.775,"color":"#fff"},{"offset":0.775,"color":"#000"},{"offset":0.8,"color":"#000"},
               {"offset":0.8,"color":"#fff"},{"offset":0.825,"color":"#fff"},{"offset":0.825,"color":"#000"},{"offset":0.85,"color":"#000"},{"offset":0.85,"color":"#fff"},{"offset":0.875,"color":"#fff"},{"offset":0.875,"color":"#000"},{"offset":0.9,"color":"#000"},
               {"offset":0.9,"color":"#fff"},{"offset":0.925,"color":"#fff"},{"offset":0.925,"color":"#000"},{"offset":0.95,"color":"#000"},{"offset":0.95,"color":"#fff"},{"offset":0.975,"color":"#fff"},{"offset":0.975,"color":"#000"},{"offset":1,"color":"#000"}]}}}},
      {"mark": {"type": "rule", "color": "black", "strokeWidth": 1.8},
       "encoding": {"y": {"field": "mean", "type": "quantitative"}, "y2": {"field": "upper"}}},
      {"mark": {"type": "tick", "color": "black", "orient": "horizontal", "thickness": 1.8, "size": 8, "opacity": 1},
       "encoding": {"y": {"field": "upper", "type": "quantitative"}}},
      {"transform": [{"filter": "isValid(datum.star)"}],
       "mark": {"type": "text", "text": "★", "font": "DejaVu Sans", "fontSize": 10, "color": "black", "baseline": "middle"},
       "encoding": {"y": {"field": "star", "type": "quantitative"}}}
      ]
     },
     {"data": {"values": [{"label": "agrA"}]},
      "mark": {"type": "text", "font": "Liberation Sans", "fontSize": 17, "fontWeight": "bold", "fontStyle": "italic", "baseline": "alphabetic", "align": "center", "dx": -9.5, "color": "black"},
      "encoding": {"text": {"field": "label", "type": "nominal"}, "x": {"datum": "24h"}, "y": {"datum": 1.711}}}
    ]
    }
   ],
   "spacing": 0,
   "resolve": {"scale": {"fill": "independent", "x": "independent", "y": "independent", "xOffset": "independent"}, "legend": {"fill": "independent"}}
  }
  ]
}
]
}
